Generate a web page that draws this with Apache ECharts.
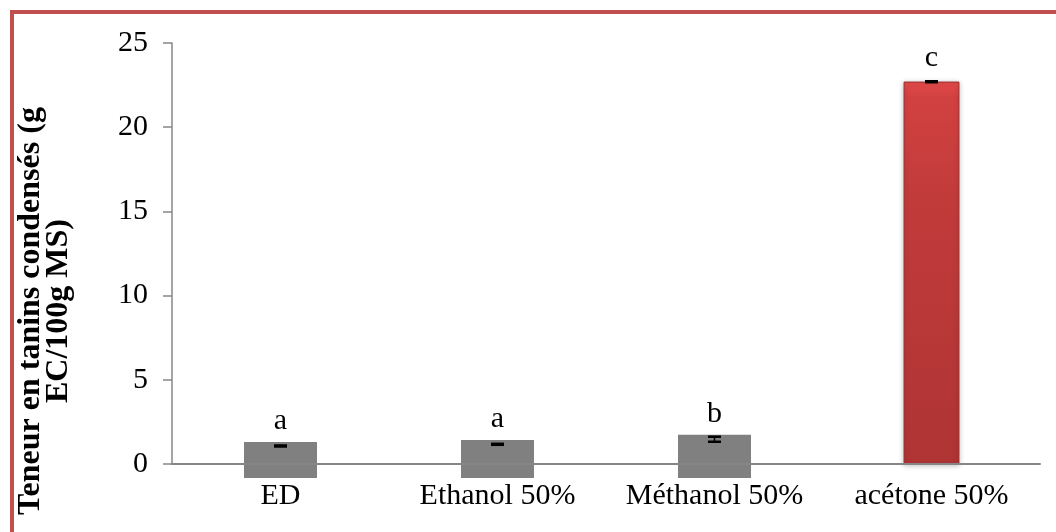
<!DOCTYPE html>
<html><head><meta charset="utf-8">
<script src="https://cdn.jsdelivr.net/npm/echarts@6/dist/echarts.min.js"></script>
<style>html,body{margin:0;padding:0;background:#fff;overflow:hidden}#c{width:1056px;height:532px}</style>
</head><body><div id="c"></div>
<script>
const categories = ['ED', 'Ethanol 50%', 'Méthanol 50%', 'acétone 50%'];
const grayBarTop = [1.30, 1.43, 1.73, null];
const grayBarBelow = [-0.83, -0.83, -0.83, null];
const redBar = [null, null, null, 22.68];
const meanValues = [1.07, 1.17, 1.47, 22.70];
const errValues = [0.03, 0.03, 0.15, 0.03];
const groupLetters = ['a', 'a', 'b', 'c'];
const yMin = 0, yMax = 25, yStep = 5;
const yTitle = 'Teneur en tanins condensés (g\nEC/100g MS)';

const FONT = '"Liberation Serif", "Times New Roman", serif';
const chart = echarts.init(document.getElementById('c'), null, {renderer: 'canvas'});

const redGradient = new echarts.graphic.LinearGradient(0, 0, 0, 1, [
  {offset: 0, color: '#E44A4A'},
  {offset: 0.04, color: '#D24141'},
  {offset: 0.3, color: '#C23B3B'},
  {offset: 1, color: '#AF3434'}
]);

const option = {
  animation: false,
  backgroundColor: '#ffffff',
  grid: {left: 172, right: 16, top: 43, bottom: 68, containLabel: false},
  graphic: [
    {type: 'rect', z: -10, shape: {x: 12, y: 12, width: 1200, height: 700},
     style: {fill: 'none', stroke: '#C0504D', lineWidth: 4}},
    {type: 'text', x: 45, y: 311, rotation: Math.PI / 2,
     style: {text: yTitle, font: 'bold 32px ' + FONT, fill: '#000', align: 'center', verticalAlign: 'middle', lineHeight: 28}}
  ],
  xAxis: {
    type: 'category', data: categories, z: 10,
    axisLine: {lineStyle: {color: '#868686', width: 2}},
    axisTick: {show: false},
    axisLabel: {color: '#000', fontFamily: FONT, fontSize: 30, margin: 17, interval: 0, hideOverlap: false}
  },
  yAxis: {
    type: 'value', min: yMin, max: yMax, interval: yStep,
    axisLine: {show: true, lineStyle: {color: '#868686', width: 1.5}},
    axisTick: {show: true, length: 9, lineStyle: {color: '#868686', width: 1.5}},
    splitLine: {show: false},
    axisLabel: {color: '#000', fontFamily: FONT, fontSize: 30, margin: 24}
  },
  series: [
    {
      type: 'bar', stack: 'g', data: grayBarTop, barWidth: 73,
      itemStyle: {color: '#808080'},
      label: {show: true, position: 'top', distance: 6, color: '#000', fontFamily: FONT, fontSize: 30,
               formatter: p => groupLetters[p.dataIndex]}
    },
    {
      type: 'bar', stack: 'g', data: grayBarBelow, barWidth: 73, clip: false, silent: true,
      itemStyle: {color: '#808080'}
    },
    {
      type: 'custom', z: 3, clip: false,
      data: redBar.map((v, i) => [i, v]).filter(d => d[1] != null),
      encode: {x: 0, y: 1},
      renderItem: function (params, api) {
        const i = api.value(0), v = api.value(1);
        const top = api.coord([i, v]);
        const base = api.coord([i, 0]);
        const w = api.size([1, 0])[0] * 0.253;
        return {type: 'group', children: [
          {type: 'rect', shape: {x: top[0] - w / 2, y: top[1], width: w, height: base[1] - top[1]},
           style: {fill: redGradient, stroke: '#9C2E2E', lineWidth: 1, shadowBlur: 5, shadowColor: 'rgba(0,0,0,0.25)', shadowOffsetY: 1}},
          {type: 'text', style: {text: groupLetters[i], x: top[0], y: top[1] - 9, align: 'center', verticalAlign: 'bottom',
            font: '30px ' + FONT, fill: '#000'}}
        ]};
      }
    },
    {
      type: 'custom', z: 5, clip: false,
      data: meanValues.map((m, i) => [i, m, errValues[i]]),
      encode: {x: 0, y: 1},
      renderItem: function (params, api) {
        const i = api.value(0), m = api.value(1), e = api.value(2);
        const hi = api.coord([i, m + e]);
        const lo = api.coord([i, m - e]);
        const hw = 6.5;
        const st = {stroke: '#000', lineWidth: 2.5};
        return {type: 'group', children: [
          {type: 'line', shape: {x1: hi[0], y1: hi[1], x2: lo[0], y2: lo[1]}, style: {stroke: '#000', lineWidth: 1.5}},
          {type: 'line', shape: {x1: hi[0] - hw, y1: hi[1], x2: hi[0] + hw, y2: hi[1]}, style: st},
          {type: 'line', shape: {x1: lo[0] - hw, y1: lo[1], x2: lo[0] + hw, y2: lo[1]}, style: st}
        ]};
      }
    }
  ]
};
chart.setOption(option);
</script></body></html>
